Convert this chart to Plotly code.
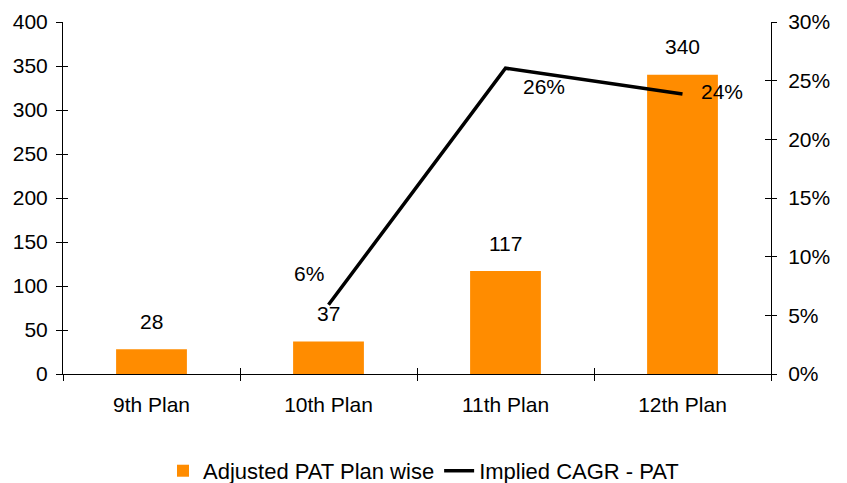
import plotly.graph_objects as go

# ---- data ----
categories = ["9th Plan", "10th Plan", "11th Plan", "12th Plan"]
pat_values = [28, 37, 117, 340]
bar_labels = ["28", "37", "117", "340"]
cagr_values = [None, 0.059, 0.2606, 0.2387]
cagr_labels = ["", "6%", "26%", "24%"]

# ---- style ----
FONT = "Liberation Sans, Arial, sans-serif"
ORANGE = "#FF8C00"
TXT = 21
cagr_label_shift = [(0, 0), (-20, 31), (38, -18), (39, 2)]

fig = go.Figure()
fig.add_trace(go.Bar(x=categories, y=pat_values, name="Adjusted PAT Plan wise",
                     marker=dict(color=ORANGE, line=dict(width=0)), width=0.4))
fig.add_trace(go.Scatter(x=categories, y=cagr_values, name="Implied CAGR - PAT",
                         mode="lines", yaxis="y2",
                         line=dict(color="black", width=3.5)))
# helper traces so that the inner-tick overlay axes get drawn
fig.add_trace(go.Scatter(x=categories, y=[None] * 4, xaxis="x2", yaxis="y3",
                         showlegend=False, hoverinfo="skip"))
fig.add_trace(go.Scatter(x=categories, y=[None] * 4, yaxis="y4",
                         showlegend=False, hoverinfo="skip"))

annotations = []
for c, v, t in zip(categories, pat_values, bar_labels):
    annotations.append(dict(x=c, y=v, xref="x", yref="y", text=t, showarrow=False,
                            yanchor="middle", yshift=28,
                            font=dict(family=FONT, size=TXT, color="black")))
for c, v, t, (dx, dy) in zip(categories, cagr_values, cagr_labels, cagr_label_shift):
    if v is None:
        continue
    annotations.append(dict(x=c, y=v, xref="x", yref="y2", text=t, showarrow=False,
                            xshift=dx, yshift=dy,
                            font=dict(family=FONT, size=TXT, color="black")))

common = dict(showgrid=False, zeroline=False, tickcolor="black", linecolor="black")

fig.update_layout(
    width=847, height=483,
    margin=dict(l=63, r=76, t=22, b=109, autoexpand=False),
    paper_bgcolor="white", plot_bgcolor="white",
    font=dict(family=FONT, size=TXT, color="black"),
    barmode="overlay",
    showlegend=True,
    legend=dict(orientation="h", x=0.5, xanchor="center", xref="container",
                y=0.025, yanchor="middle", yref="container",
                font=dict(family=FONT, size=22, color="black"), bgcolor="rgba(0,0,0,0)",
                traceorder="normal"),
    xaxis=dict(type="category", categoryorder="array", categoryarray=categories,
               range=[-0.5, 3.5], showline=True, linewidth=1, ticks="outside",
               tickson="boundaries", ticklen=6, tickwidth=1, ticklabelstandoff=12,
               tickfont=dict(size=TXT), **common),
    xaxis2=dict(type="category", categoryorder="array", categoryarray=categories,
                overlaying="x", anchor="y", side="bottom", range=[-0.5, 3.5],
                showline=False, ticks="inside", tickson="boundaries", ticklen=6,
                tickwidth=1, showticklabels=False, **common),
    yaxis=dict(range=[0, 400], dtick=50, tick0=0, showline=True, linewidth=1,
               ticks="outside", ticklen=6, tickwidth=1, ticklabelstandoff=4,
               tickfont=dict(size=TXT), **common),
    yaxis2=dict(range=[0, 0.30], dtick=0.05, tick0=0, tickformat=".0%", overlaying="y",
                side="right", anchor="x", showline=True, linewidth=1, ticks="outside",
                ticklen=5, tickwidth=1, ticklabelstandoff=7, tickfont=dict(size=TXT),
                **common),
    yaxis3=dict(range=[0, 400], dtick=50, tick0=0, overlaying="y", anchor="x", side="left",
                showline=False, ticks="inside", ticklen=5, tickwidth=1,
                showticklabels=False, **common),
    yaxis4=dict(range=[0, 0.30], dtick=0.05, tick0=0, overlaying="y", anchor="x",
                side="right", showline=False, ticks="inside", ticklen=6, tickwidth=1,
                showticklabels=False, **common),
    annotations=annotations,
)

fig.write_html("out.html")
